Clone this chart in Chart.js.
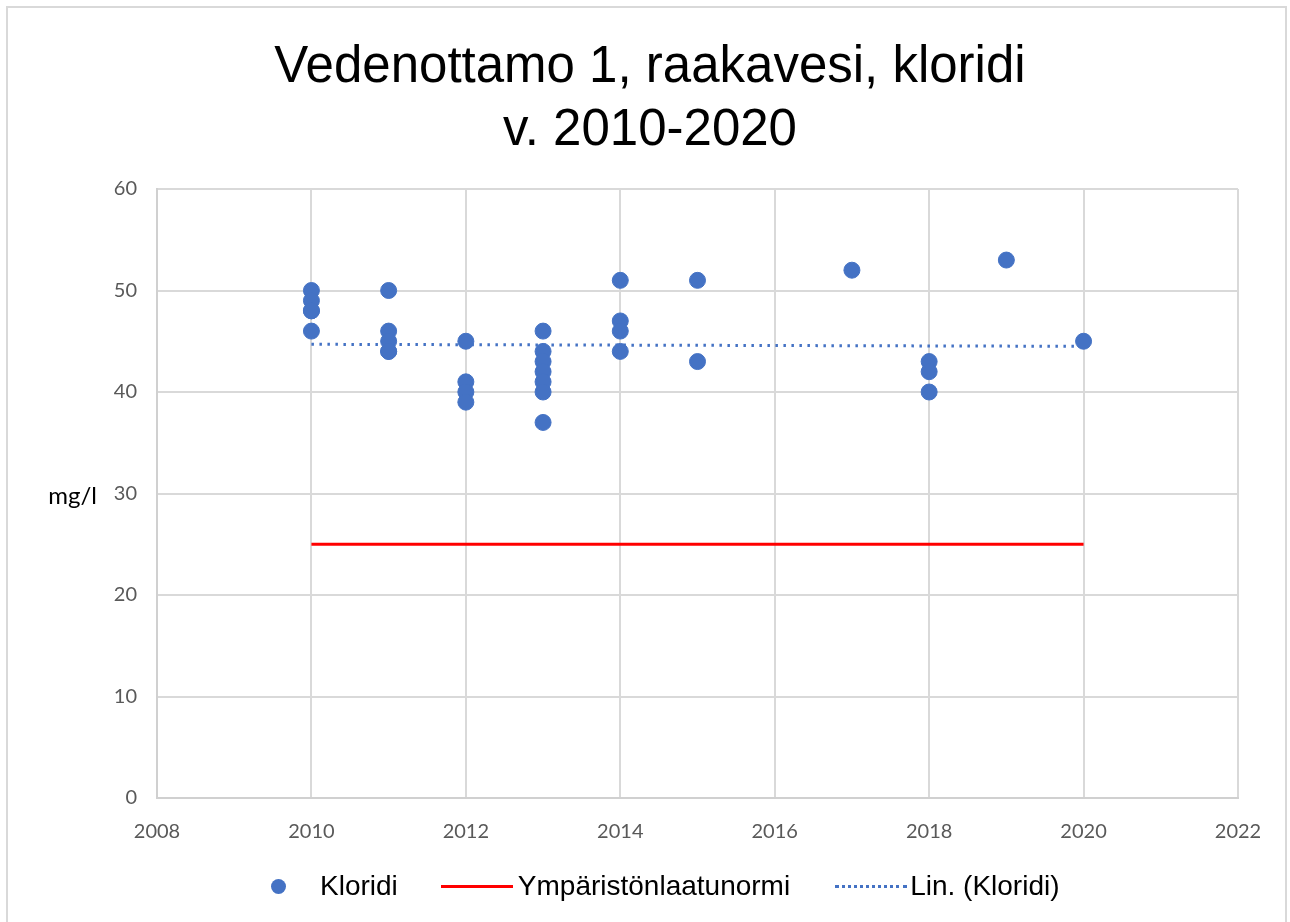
<!DOCTYPE html>
<html>
<head>
<meta charset="utf-8">
<script src="https://cdn.jsdelivr.net/npm/chart.js@4"></script>
<style>
  html, body { margin: 0; padding: 0; background: #fff; }
  #wrap { position: relative; width: 1290px; height: 922px; }
  #legend {
    position: absolute; left: 0; top: 866px; width: 1290px; height: 40px;
    display: flex; justify-content: flex-start; align-items: center; padding-left: 271px; box-sizing: border-box;
    font-family: "Liberation Sans", Arial, sans-serif; font-size: 28px; color: #000;
  }
  #legend .item { display: flex; align-items: center; }
  #legend .dot { width: 15px; height: 15px; border-radius: 50%; background: #4472c4; margin-right: 34px; }
  #legend .solid { width: 72px; height: 3px; background: #ff0000; margin-right: 5px; }
  #legend .dotted { width: 72px; height: 0; border-top: 3px dotted #4472c4; margin-right: 3px; }
</style>
</head>
<body>
<div id="wrap">
  <canvas id="chart" width="1290" height="922"></canvas>
  <div id="legend"></div>
</div>
<script>
// vuosi ja kloridipitoisuus (mg/l)
const years = [2010, 2010, 2010, 2010, 2010,
  2011, 2011, 2011, 2011, 2011,
  2012, 2012, 2012, 2012,
  2013, 2013, 2013, 2013, 2013, 2013, 2013,
  2014, 2014, 2014, 2014,
  2015, 2015,
  2017,
  2018, 2018, 2018,
  2019,
  2020];
const kloridi = [50, 49, 48, 48, 46,
  50, 46, 45, 44, 44,
  45, 41, 40, 39,
  46, 44, 43, 42, 41, 40, 37,
  51, 47, 46, 44,
  51, 43,
  52,
  43, 42, 40,
  53,
  45];
const normiYears = [2010, 2020];
const normi = [25, 25];
const trendYears = [2010, 2020];
const trend = [44.7, 44.5];
const xTicks = [2008, 2010, 2012, 2014, 2016, 2018, 2020, 2022];
const yTicks = [0, 10, 20, 30, 40, 50, 60];

const titleLines = ['Vedenottamo 1, raakavesi, kloridi', 'v. 2010-2020'];
const labels = ['Kloridi', 'Ympäristönlaatunormi', 'Lin. (Kloridi)'];

const toPoints = (xs, ys) => xs.map((x, i) => ({ x: x, y: ys[i] }));

// legenda html:nä, tekstit datasettien nimistä
const legendEl = document.getElementById('legend');
const samples = ['dot', 'solid', 'dotted'];
const gaps = [0, 43, 45];
labels.forEach((lab, i) => {
  const item = document.createElement('div');
  item.className = 'item';
  item.style.marginLeft = gaps[i] + 'px';
  item.innerHTML = '<span class="' + samples[i] + '"></span><span>' + lab + '</span>';
  legendEl.appendChild(item);
});

const frame = {
  id: 'frame',
  beforeDraw(chart) {
    const c = chart.ctx;
    c.save();
    c.strokeStyle = '#d9d9d9';
    c.lineWidth = 2;
    c.strokeRect(7, 7, 1279, 922);
    c.restore();
  },
  afterDraw(chart) {
    const c = chart.ctx;
    const y = chart.scales.y.getPixelForValue(30);
    c.save();
    c.font = '24px Lato, "Open Sans", sans-serif';
    c.fillStyle = '#000';
    c.textAlign = 'right';
    c.textBaseline = 'middle';
    c.fillText('mg/l', 97, y + 3);
    c.restore();
  }
};

new Chart(document.getElementById('chart').getContext('2d'), {
  type: 'scatter',
  data: {
    datasets: [
      {
        label: labels[0],
        data: toPoints(years, kloridi),
        backgroundColor: '#4472c4',
        borderColor: '#4472c4',
        pointRadius: 8,
        pointHoverRadius: 8,
        order: 1
      },
      {
        label: labels[1],
        data: toPoints(normiYears, normi),
        showLine: true,
        borderColor: '#ff0000',
        borderWidth: 3,
        pointRadius: 0,
        order: 2
      },
      {
        label: labels[2],
        data: toPoints(trendYears, trend),
        showLine: true,
        borderColor: '#4472c4',
        borderWidth: 3,
        borderDash: [2.5, 5.5],
        borderCapStyle: 'butt',
        pointRadius: 0,
        order: 3
      }
    ]
  },
  options: {
    responsive: false,
    animation: false,
    layout: { padding: { left: 62, right: 52, top: 0, bottom: 74 } },
    plugins: {
      legend: { display: false },
      tooltip: { enabled: false },
      title: {
        display: true,
        text: titleLines,
        color: '#000',
        font: { family: '"Liberation Sans", Arial, sans-serif', size: 51, lineHeight: '63px', weight: 'normal' },
        padding: { top: 36, bottom: 27 }
      }
    },
    scales: {
      x: {
        type: 'linear',
        min: xTicks[0],
        max: xTicks[xTicks.length - 1],
        afterBuildTicks: (s) => { s.ticks = xTicks.map(v => ({ value: v })); },
        afterFit: (s) => { s.height = 50; },
        grid: { color: '#d9d9d9', lineWidth: 2, drawTicks: false },
        border: { color: '#d0d0d0', width: 2 },
        ticks: {
          padding: 22,
          color: '#595959',
          font: { family: 'Lato, "Open Sans", sans-serif', size: 20 },
          callback: (v) => String(v)
        }
      },
      y: {
        min: yTicks[0],
        max: yTicks[yTicks.length - 1],
        afterBuildTicks: (s) => { s.ticks = yTicks.map(v => ({ value: v })); },
        afterFit: (s) => { s.width = 95; },
        grid: { color: '#d9d9d9', lineWidth: 2, drawTicks: false },
        border: { color: '#d0d0d0', width: 2 },
        ticks: {
          padding: 20,
          color: '#595959',
          font: { family: 'Lato, "Open Sans", sans-serif', size: 20 }
        }
      }
    }
  },
  plugins: [frame]
});
</script>
</body>
</html>
